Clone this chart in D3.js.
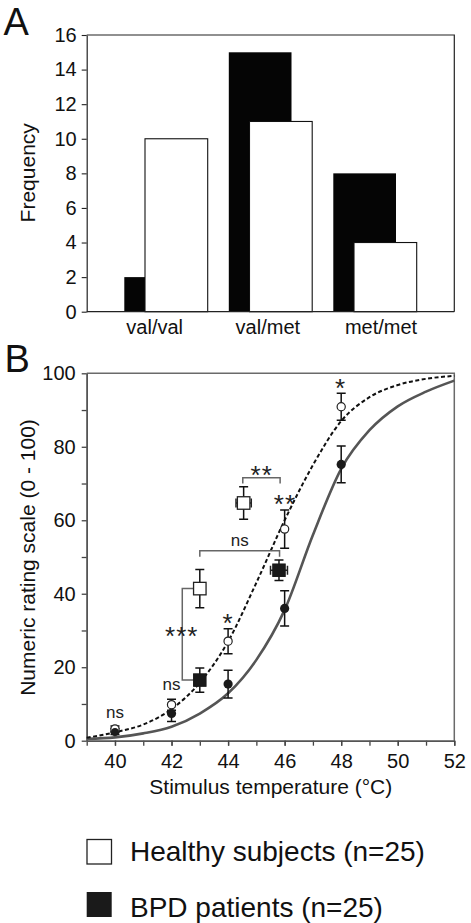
<!DOCTYPE html>
<html><head><meta charset="utf-8">
<script src="https://cdn.jsdelivr.net/npm/d3@7"></script>
<style>
html,body{margin:0;padding:0;background:#fff;}
svg{display:block;font-family:"Liberation Sans",Arial,Helvetica,sans-serif;}
</style></head>
<body>
<svg id="chart" width="471" height="923"></svg>
<script>
// ---------- Panel A data ----------
const categories = ["val/val", "val/met", "met/met"];
const bpdFreq = [2, 15, 8];
const healthyFreq = [10, 11, 4];
const freqTicks = [0, 2, 4, 6, 8, 10, 12, 14, 16];

// ---------- Panel B data ----------
const temps = [40, 42, 44, 46, 48];
const healthyMean = [3.2, 9.8, 27.1, 57.6, 90.9];
const healthyErr = [0.8, 1.5, 3.4, 5.2, 3.7];
const bpdMean = [2.5, 7.4, 15.4, 36.0, 75.2];
const bpdErr = [0.8, 2.2, 3.8, 4.8, 5.0];

const healthySqTemp = [43, 44.55];
const healthySqMean = [41.4, 64.7];
const healthySqErr = [5.2, 4.4];
const healthySqTempErr = [0, 0.27];
const bpdSqTemp = [43, 45.8];
const bpdSqMean = [16.5, 46.4];
const bpdSqErr = [3.3, 2.8];
const bpdSqTempErr = [0, 0.3];

const curveTemps = [39, 40, 41, 42, 43, 44, 45, 46, 47, 48, 49, 50, 51, 52];
const healthyCurve = [0.8, 2.3, 4.4, 8.6, 15.8, 27, 43, 60, 75, 87, 93.5, 96.8, 98.5, 99.3];
const bpdCurve = [0.5, 0.9, 2.0, 3.8, 7.4, 12.9, 22, 35.6, 56, 74, 84.5, 91, 95, 98];

const tempTicks = [40, 42, 44, 46, 48, 50, 52];
const tempMinorTicks = [39, 40, 41, 42, 43, 44, 45, 46, 47, 48, 49, 50, 51, 52];
const ratingTicks = [0, 20, 40, 60, 80, 100];
const ratingMinorTicks = [10, 30, 50, 70, 90];

// annotation labels (text, temperature, rating)
const nsLabels = [["ns", 40.0, 6.2], ["ns", 42.0, 13.7], ["ns", 44.41, 53.0]];
const starLabels = [["*", 44.0, 33.75], ["***", 42.36, 30.1], ["**", 45.19, 74.1], ["**", 46.01, 66.0], ["*", 47.98, 97.7]];

const legendLabels = ["Healthy subjects (n=25)", "BPD patients (n=25)"];

const svg = d3.select("#chart");
const FONT = 20;

// ================= Panel A =================
const A = {l: 86.7, r: 454.3, t: 35, b: 311.7};
const yA = d3.scaleLinear().domain([0, 16]).range([A.b, A.t]);
const xA = d3.scalePoint().domain(categories).range([166, 375]);
const xALabel = d3.scalePoint().domain(categories).range([154.7, 381]);
const barW = 62.7, barOff = 20.7;

const gA = svg.append("g");
// bars: black behind, white in front
gA.selectAll("rect.bpd").data(categories).join("rect")
  .attr("x", d => xA(d) - 41.7)
  .attr("y", (d, i) => yA(bpdFreq[i]))
  .attr("width", barW)
  .attr("height", (d, i) => yA(0) - yA(bpdFreq[i]))
  .attr("fill", "#050505");
gA.selectAll("rect.hs").data(categories).join("rect")
  .attr("x", d => xA(d) - 41.7 + barOff)
  .attr("y", (d, i) => yA(healthyFreq[i]))
  .attr("width", barW)
  .attr("height", (d, i) => yA(0) - yA(healthyFreq[i]))
  .attr("fill", "#fff").attr("stroke", "#111").attr("stroke-width", 1.1);

// frame
gA.append("path").attr("d", `M${A.l},${A.t}H${A.r}V${A.b}`)
  .attr("fill", "none").attr("stroke", "#222").attr("stroke-width", 1.2);
gA.append("line").attr("x1", A.l).attr("x2", A.r).attr("y1", A.b).attr("y2", A.b)
  .attr("stroke", "#222").attr("stroke-width", 1.2);
const axA = gA.append("g").attr("transform", `translate(${A.l},0)`)
  .call(d3.axisLeft(yA).tickValues(freqTicks).tickSize(5).tickPadding(5).tickSizeOuter(0));
axA.select(".domain").attr("stroke", "#222").attr("stroke-width", 1.2);
axA.selectAll(".tick line").attr("stroke", "#222").attr("stroke-width", 1.1);
axA.selectAll("text").attr("font-size", FONT).attr("font-family", "Liberation Sans, Arial").attr("fill", "#111");

gA.selectAll("text.cat").data(categories).join("text")
  .attr("x", d => xALabel(d)).attr("y", 334)
  .attr("text-anchor", "middle").attr("font-size", FONT).attr("fill", "#111")
  .text(d => d);
gA.append("text").attr("transform", "translate(35,172.8) rotate(-90)")
  .attr("text-anchor", "middle").attr("font-size", 21).attr("fill", "#111").text("Frequency");
svg.append("text").attr("x", 3.5).attr("y", 35).attr("font-size", 38).attr("fill", "#111").text("A");

// ================= Panel B =================
const B = {l: 86.7, r: 454.3, t: 373.3, b: 740.7};
const xB = d3.scaleLinear().domain([39, 52]).range([B.l, B.r]);
const yB = d3.scaleLinear().domain([0, 100]).range([B.b, B.t]);
const gB = svg.append("g");

const frameCol = "#6a6a6a";
gB.append("path").attr("d", `M${B.l},${B.t}H${B.r}V${B.b}`)
  .attr("fill", "none").attr("stroke", frameCol).attr("stroke-width", 1.5);

function styleAxis(sel) {
  sel.select(".domain").attr("stroke", "#555").attr("stroke-width", 1.5);
  sel.selectAll(".tick line").attr("stroke", "#444").attr("stroke-width", 1.3);
  sel.selectAll("text").attr("font-size", FONT).attr("font-family", "Liberation Sans, Arial").attr("fill", "#111");
}
styleAxis(gB.append("g").attr("transform", `translate(0,${B.b})`)
  .call(d3.axisBottom(xB).tickValues(tempMinorTicks).tickSize(5).tickFormat("").tickSizeOuter(0)));
styleAxis(gB.append("g").attr("transform", `translate(0,${B.b})`)
  .call(d3.axisBottom(xB).tickValues(tempTicks).tickSize(5).tickPadding(8).tickSizeOuter(0)));
styleAxis(gB.append("g").attr("transform", `translate(${B.l},0)`)
  .call(d3.axisLeft(yB).tickValues(ratingMinorTicks).tickSize(5).tickFormat("").tickSizeOuter(0)));
styleAxis(gB.append("g").attr("transform", `translate(${B.l},0)`)
  .call(d3.axisLeft(yB).tickValues(ratingTicks).tickSize(5).tickPadding(6).tickSizeOuter(0)));

gB.append("text").attr("x", 270.8).attr("y", 794).attr("text-anchor", "middle")
  .attr("font-size", 21).attr("fill", "#111").text("Stimulus temperature (°C)");
gB.append("text").attr("transform", "translate(35,557.5) rotate(-90)")
  .attr("text-anchor", "middle").attr("font-size", 21).attr("fill", "#111").text("Numeric rating scale (0 - 100)");
svg.append("text").attr("x", 4.5).attr("y", 372.3).attr("font-size", 38).attr("fill", "#111").text("B");

// fitted curves
const line = d3.line().curve(d3.curveMonotoneX).x(d => xB(d[0])).y(d => yB(d[1]));
gB.append("path").datum(curveTemps.map((t, i) => [t, bpdCurve[i]]))
  .attr("d", line).attr("fill", "none").attr("stroke", "#555").attr("stroke-width", 2.6);
gB.append("path").datum(curveTemps.map((t, i) => [t, healthyCurve[i]]))
  .attr("d", line).attr("fill", "none").attr("stroke", "#111").attr("stroke-width", 2)
  .attr("stroke-dasharray", "4,2.5");

// brackets
const brCol = "#666";
function bracket(d) {
  gB.append("path").attr("d", d).attr("fill", "none").attr("stroke", brCol).attr("stroke-width", 1.5);
}
bracket(`M${xB(42.78)},${yB(41.4)}H${xB(42.38)}V${yB(16.5)}H${xB(42.78)}`);
bracket(`M${xB(43)},${yB(50.1)}V${yB(51.7)}H${xB(45.82)}V${yB(50.1)}`);
bracket(`M${xB(44.52)},${yB(70.0)}V${yB(71.6)}H${xB(45.84)}V${yB(70.0)}`);

// error bars
const cap = 4.5;
function vErr(x, m, e) {
  const px = xB(x);
  gB.append("path").attr("d",
    `M${px},${yB(m + e)}V${yB(m - e)}M${px - cap},${yB(m + e)}H${px + cap}M${px - cap},${yB(m - e)}H${px + cap}`)
    .attr("fill", "none").attr("stroke", "#111").attr("stroke-width", 1.5);
}
function hErr(x, m, e) {
  if (!e) return;
  const py = yB(m);
  gB.append("path").attr("d",
    `M${xB(x - e)},${py}H${xB(x + e)}M${xB(x - e)},${py - cap}V${py + cap}M${xB(x + e)},${py - cap}V${py + cap}`)
    .attr("fill", "none").attr("stroke", "#222").attr("stroke-width", 1.5);
}
temps.forEach((t, i) => { vErr(t, bpdMean[i], bpdErr[i]); vErr(t, healthyMean[i], healthyErr[i]); });
healthySqTemp.forEach((t, i) => { vErr(t, healthySqMean[i], healthySqErr[i]); hErr(t, healthySqMean[i], healthySqTempErr[i]); });
bpdSqTemp.forEach((t, i) => { vErr(t, bpdSqMean[i], bpdSqErr[i]); hErr(t, bpdSqMean[i], bpdSqTempErr[i]); });

// markers
const sq = 12.5;
gB.selectAll("rect.hsq").data(healthySqTemp).join("rect")
  .attr("x", d => xB(d) - sq / 2).attr("y", (d, i) => yB(healthySqMean[i]) - sq / 2)
  .attr("width", sq).attr("height", sq).attr("fill", "#fff").attr("stroke", "#222").attr("stroke-width", 1.3);
gB.selectAll("rect.bsq").data(bpdSqTemp).join("rect")
  .attr("x", d => xB(d) - sq / 2).attr("y", (d, i) => yB(bpdSqMean[i]) - sq / 2)
  .attr("width", sq).attr("height", sq).attr("fill", "#1a1a1a").attr("stroke", "#1a1a1a");
gB.selectAll("circle.bpd").data(temps).join("circle")
  .attr("cx", d => xB(d)).attr("cy", (d, i) => yB(bpdMean[i])).attr("r", 4.6).attr("fill", "#1a1a1a");
gB.selectAll("circle.hs").data(temps).join("circle")
  .attr("cx", d => xB(d)).attr("cy", (d, i) => yB(healthyMean[i])).attr("r", 4.1)
  .attr("fill", "#fff").attr("stroke", "#222").attr("stroke-width", 1.2);
// small filled marker drawn over open at 40 (overlap)
gB.append("circle").attr("cx", xB(temps[0])).attr("cy", yB(bpdMean[0])).attr("r", 3.6).attr("fill", "#1a1a1a");

// annotation text
gB.selectAll("text.ns").data(nsLabels).join("text")
  .attr("x", d => xB(d[1])).attr("y", d => yB(d[2]))
  .attr("text-anchor", "middle").attr("font-size", 17).attr("fill", "#222").text(d => d[0]);
const starSize = 26;
gB.selectAll("text.star").data(starLabels).join("text")
  .attr("x", d => xB(d[1])).attr("y", d => yB(d[2]) + starSize * 0.58)
  .attr("text-anchor", "middle").attr("font-size", starSize).attr("fill", "#222")
  .attr("letter-spacing", 1).text(d => d[0]);

// ================= Legend =================
const leg = svg.append("g");
leg.append("rect").attr("x", 87).attr("y", 839.5).attr("width", 24.5).attr("height", 24.5)
  .attr("fill", "#fff").attr("stroke", "#222").attr("stroke-width", 1.3);
leg.append("rect").attr("x", 86.7).attr("y", 892).attr("width", 25).attr("height", 25)
  .attr("fill", "#1a1a1a");
leg.selectAll("text").data(legendLabels).join("text")
  .attr("x", 130).attr("y", (d, i) => i === 0 ? 860.5 : 916.5)
  .attr("font-size", 28).attr("fill", "#111").text(d => d);
</script>
</body></html>
